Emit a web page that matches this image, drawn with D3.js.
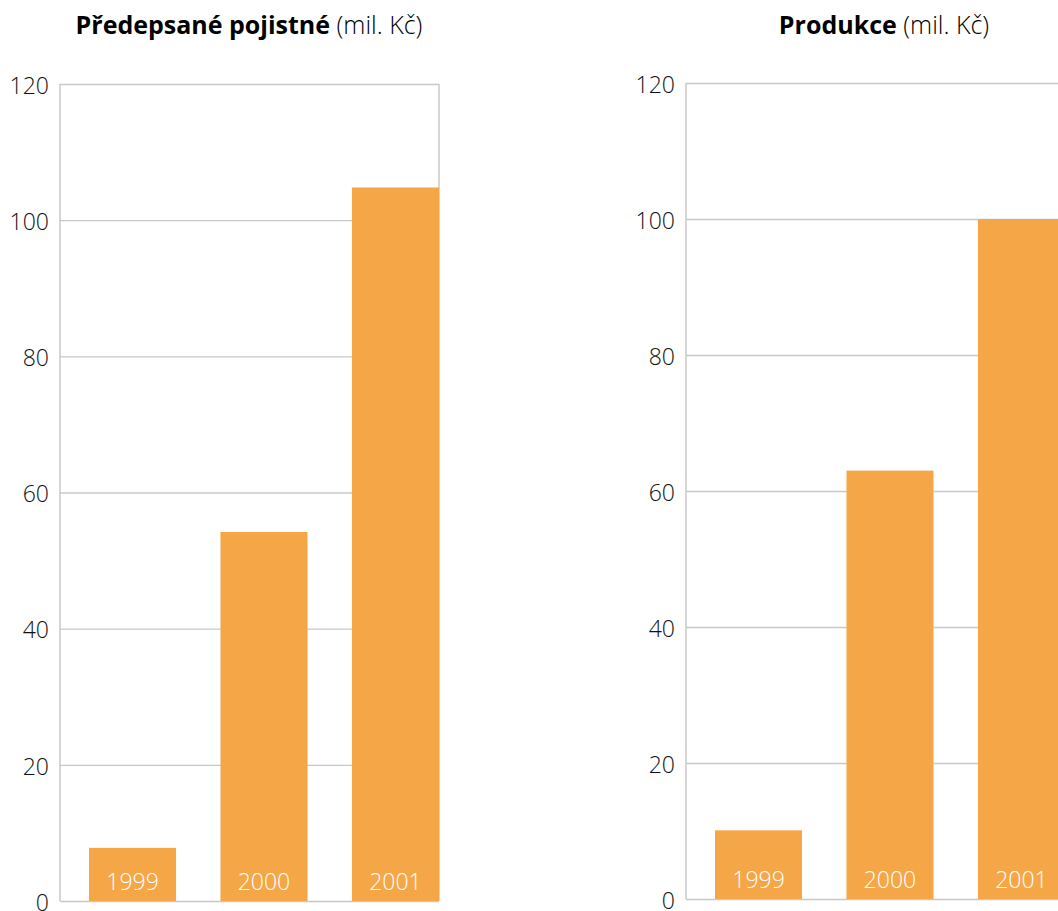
<!DOCTYPE html>
<html>
<head>
<meta charset="utf-8">
<script src="https://cdn.jsdelivr.net/npm/d3@7"></script>
<style>
  body { margin: 0; background: #fff; }
  svg { display: block; font-family: "Open Sans", "Noto Sans", sans-serif; }
</style>
</head>
<body>
<svg id="canvas" width="1058" height="911"></svg>
<script>
const width = 1058;
const height = 911;

const years = ["1999", "2000", "2001"];
const premiums = [7.8, 54.2, 104.8];   // Předepsané pojistné
const production = [10.1, 63.0, 100.0]; // Produkce
const yTicks = [0, 20, 40, 60, 80, 100, 120];

const barColor = "#f5a747";
const gridColor = "#c8c8c8";
const font = "'Open Sans', 'Noto Sans', sans-serif";

const svg = d3.select("#canvas");

function drawPanel(opts){

    const g = svg.append("g");

    const y = d3.scaleLinear()
        .domain([0, 120])
        .range([opts.bottom, opts.top]);

    const x = d3.scaleBand()
        .domain(years)
        .range([opts.left + 29, opts.right])
        .paddingInner(0.338)
        .paddingOuter(0);

    // gridlines + tick labels
    const axis = d3.axisLeft(y)
        .tickValues(yTicks)
        .tickSize(-(opts.right - opts.left))
        .tickPadding(10)
        .tickFormat(d3.format("d"));

    const ax = g.append("g")
        .attr("transform", `translate(${opts.left},0)`)
        .call(axis)
        .attr("font-family", font);

    ax.select(".domain").remove();
    ax.selectAll(".tick line")
        .attr("stroke", gridColor)
        .attr("stroke-width", 1.3);
    ax.selectAll(".tick text")
        .attr("fill", "#111")
        .attr("font-size", 23)
        .attr("font-weight", 300)
        .attr("x", -11)
        .attr("dy", "0.4em");

    // left axis line
    g.append("line")
        .attr("x1", opts.left).attr("x2", opts.left)
        .attr("y1", y(120)).attr("y2", y(0))
        .attr("stroke", gridColor)
        .attr("stroke-width", 1.5);

    // right border
    g.append("line")
        .attr("x1", opts.right).attr("x2", opts.right)
        .attr("y1", y(120)).attr("y2", y(0))
        .attr("stroke", gridColor)
        .attr("stroke-width", 1.5);

    // bars
    g.selectAll("rect.bar")
        .data(opts.values)
        .enter()
        .append("rect")
        .attr("class", "bar")
        .attr("x", (d, i) => x(years[i]))
        .attr("y", d => y(d))
        .attr("width", x.bandwidth())
        .attr("height", d => y(0) - y(d))
        .attr("fill", barColor);

    // year labels inside bars
    g.selectAll("text.year")
        .data(years)
        .enter()
        .append("text")
        .attr("class", "year")
        .attr("x", d => x(d) + x.bandwidth() / 2)
        .attr("y", y(0) - 11)
        .attr("text-anchor", "middle")
        .attr("fill", "#fff")
        .attr("font-size", 23)
        .attr("font-weight", 300)
        .text(d => d);

    // title
    const t = g.append("text")
        .attr("x", opts.titleX)
        .attr("y", 34)
        .attr("text-anchor", "middle")
        .attr("font-size", 25)
        .attr("fill", "#000");
    t.append("tspan").attr("font-weight", 700).text(opts.titleBold);
    t.append("tspan").attr("font-weight", 300).text(" (mil. Kč)");
}

drawPanel({
    left: 60, right: 439, top: 84, bottom: 901,
    values: premiums,
    titleBold: "Předepsané pojistné",
    titleX: 249
});

drawPanel({
    left: 686, right: 1065, top: 83, bottom: 899,
    values: production,
    titleBold: "Produkce",
    titleX: 884
});
</script>
</body>
</html>
